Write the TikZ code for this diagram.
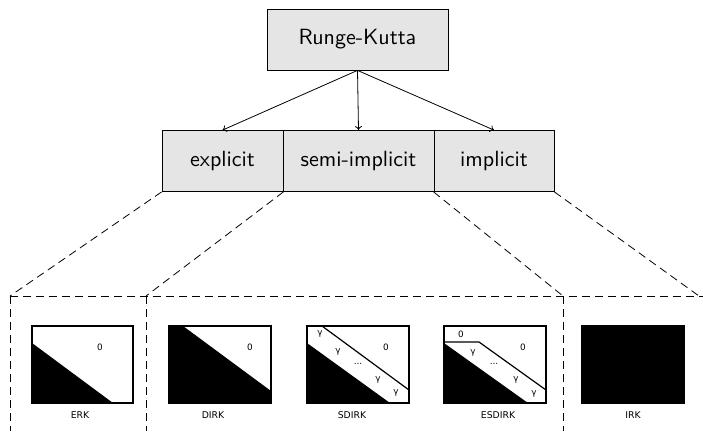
\documentclass[tikz,border=0pt]{standalone}
\usepackage{fontspec}
\newfontfamily\labfont{DejaVu Sans}
\newfontfamily\catfont{lmsans10-regular.otf}
\usetikzlibrary{arrows.meta}
\begin{document}
\begin{tikzpicture}[x=1pt,y=-1pt,
  catbox/.style={draw,line width=0.8pt,fill=gray!20,inner sep=0pt,
    font=\catfont\fontsize{22}{26}\selectfont,minimum height=61pt},
  branch/.style={line width=0.8pt,-{To[length=4pt,width=7pt]}},
  zoomline/.style={line width=0.8pt,dash pattern=on 8pt off 5pt},
  band/.style={line width=1.2pt},
  frame/.style={line width=1.3pt},
  mlabel/.style={font=\labfont\fontsize{9.3}{11}\selectfont,inner sep=0pt},
  entry/.style={font=\labfont\fontsize{8.8}{10}\selectfont,inner sep=0pt}]
\useasboundingbox (0,0) rectangle (703,431);

% tree of categories
\node[catbox,minimum width=181pt] (rk) at (357.5,39.5) {Runge-Kutta};
\node[catbox,minimum width=121pt] (ex) at (222.5,161) {explicit};
\node[catbox,minimum width=151pt] (si) at (358.5,161) {semi-implicit};
\node[catbox,minimum width=120pt] (im) at (494,161) {implicit};
\draw[branch] (rk.south) -- (ex.north);
\draw[branch] (rk.south) -- (si.north);
\draw[branch] (rk.south) -- (im.north);

% zoom regions below
\coordinate (c1) at (10,296);
\coordinate (c2) at (146,296);
\coordinate (c3) at (563,296);
\coordinate (c4) at (699,296);
\coordinate (e1) at (703,296);
\coordinate (b1) at (10,431);
\coordinate (b2) at (146,431);
\coordinate (b3) at (563,431);
\draw[zoomline] (ex.south west) -- (c1);
\draw[zoomline] (ex.south east) -- (c2);
\draw[zoomline] (im.south west) -- (c3);
\draw[zoomline] (im.south east) -- (c4);
\draw[zoomline] (c1) -- (e1);
\draw[zoomline] (c1) -- (b1);
\draw[zoomline] (c2) -- (b2);
\draw[zoomline] (c3) -- (b3);

% ERK
\fill (32,343) -- (113,403) -- (32,403) -- cycle;
\draw[frame] (32,326) rectangle (133,403);
\node[entry] at (100,347) {0};
\node[mlabel] at (80,415) {ERK};

% DIRK
\fill (169,326) -- (183,326) -- (271,391) -- (271,403) -- (169,403) -- cycle;
\draw[frame] (169,326) rectangle (271,403);
\node[entry] at (250,347) {0};
\node[mlabel] at (213,415) {DIRK};

% SDIRK
\fill (307,343) -- (390,403) -- (307,403) -- cycle;
\draw[band] (322,326) -- (409,390);
\draw[frame] (307,326) rectangle (409,403);
\node[entry] at (320,334) {γ};
\node[entry] at (338,352) {γ};
\node[entry] at (358,364) {...};
\node[entry] at (378,380) {γ};
\node[entry] at (396,393) {γ};
\node[entry] at (386,347) {0};
\node[mlabel] at (352,415) {SDIRK};

% ESDIRK
\fill (444,343) -- (528,403) -- (444,403) -- cycle;
\draw[band] (444,342) -- (479,342) -- (546,390);
\draw[frame] (444,326) rectangle (546,403);
\node[entry] at (461,334) {0};
\node[entry] at (473,353) {γ};
\node[entry] at (494,364) {...};
\node[entry] at (516,380) {γ};
\node[entry] at (534,394) {γ};
\node[entry] at (523,347) {0};
\node[mlabel] at (498,415) {ESDIRK};

% IRK
\fill (582,326) rectangle (684,403);
\draw[frame] (582,326) rectangle (684,403);
\node[mlabel] at (633,415) {IRK};
\end{tikzpicture}
\end{document}
